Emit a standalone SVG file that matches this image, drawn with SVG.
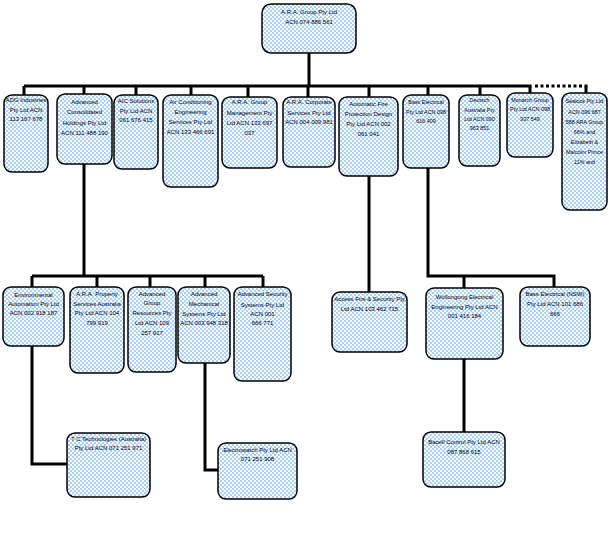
<svg xmlns="http://www.w3.org/2000/svg" width="615" height="537" viewBox="0 0 615 537">
<defs>
<pattern id="dots" width="4" height="4" patternUnits="userSpaceOnUse">
<rect width="4" height="4" fill="#ffffff"/>
<rect x="0" y="0" width="2" height="2" fill="#a8d0fc"/>
<rect x="2" y="2" width="2" height="2" fill="#a8d0fc"/>
</pattern>
</defs>
<style>
.b{fill:url(#dots);stroke:#000;stroke-width:1.5}
.t{font-family:"Liberation Sans",Arial,sans-serif;font-size:6px;fill:#000;text-anchor:middle}
.s{font-size:5.4px}
.c{fill:none;stroke:#000;stroke-width:3}
.d{fill:none;stroke:#000;stroke-width:3;stroke-dasharray:3 2.5}
</style>
<g id="connectors">
<path class="c" d="M309 53V86M24 86H531.5"/>
<path class="d" d="M535 86H588"/>
<path class="c" d="M586 86V93"/>
<path class="c" d="M24 86V95M84 86V94M136 86V95M191 86V95M248 86V97M308 86V97M369 86V97M428 86V95M480 86V95M530 86V93"/>
<path class="c" d="M84 164V276M32 276H263M32 276V287M97 276V287M150 276V287M205 276V287M263 276V287"/>
<path class="c" d="M369 176V292"/>
<path class="c" d="M428 168V276H554V287M464 276V288"/>
<path class="c" d="M32 346V464H67M205 363V470H218M464 359V432"/>
</g>
<g id="n0"><rect class="b" x="262" y="4" width="94" height="49" rx="9"/><text class="t" x="309"><tspan x="309" y="14">A.R.A. Group Pty Ltd</tspan><tspan x="309" y="24">ACN 074 886 561</tspan></text></g>
<g id="n1"><rect class="b" x="4" y="95" width="44" height="77" rx="8"/><text class="t"><tspan x="26" y="102">ADG Industries</tspan><tspan x="26" y="112">Pty Ltd ACN</tspan><tspan x="26" y="121">113 167 678</tspan></text></g>
<g id="n2"><rect class="b" x="57" y="94" width="55" height="70" rx="8"/><text class="t"><tspan x="84.5" y="104">Advanced</tspan><tspan x="84.5" y="114">Consolidated</tspan><tspan x="84.5" y="125">Holdings Pty Ltd</tspan><tspan x="84.5" y="135">ACN 111 488 190</tspan></text></g>
<g id="n3"><rect class="b" x="114" y="95" width="44" height="74" rx="8"/><text class="t"><tspan x="136" y="103">AIC Solutions</tspan><tspan x="136" y="113">Pty Ltd ACN</tspan><tspan x="136" y="122">061 676 415</tspan></text></g>
<g id="n4"><rect class="b" x="163" y="95" width="55" height="92" rx="8"/><text class="t"><tspan x="190.5" y="104">Air Conditioning</tspan><tspan x="190.5" y="114">Engineering</tspan><tspan x="190.5" y="124">Services Pty Ltd</tspan><tspan x="190.5" y="134">ACN 133 466 691</tspan></text></g>
<g id="n5"><rect class="b" x="222" y="97" width="55" height="71" rx="8"/><text class="t"><tspan x="249.5" y="104">A.R.A. Group</tspan><tspan x="249.5" y="115">Management Pty</tspan><tspan x="249.5" y="125">Ltd ACN 133 697</tspan><tspan x="249.5" y="135">037</tspan></text></g>
<g id="n6"><rect class="b" x="283" y="97" width="52" height="70" rx="8"/><text class="t"><tspan x="309" y="104">A.R.A. Corporate</tspan><tspan x="309" y="115">Services Pty Ltd</tspan><tspan x="309" y="124">ACN 004 009 981</tspan></text></g>
<g id="n7"><rect class="b" x="339" y="97" width="59" height="79" rx="8"/><text class="t"><tspan x="368.5" y="106">Automatic Fire</tspan><tspan x="368.5" y="116">Protection Design</tspan><tspan x="368.5" y="126">Pty Ltd ACN 002</tspan><tspan x="368.5" y="136">061 041</tspan></text></g>
<g id="n8"><rect class="b" x="403" y="95" width="46" height="73" rx="8"/><text class="t s"><tspan x="426" y="104">Bass Electrical</tspan><tspan x="426" y="114">Pty Ltd ACN 098</tspan><tspan x="426" y="123">616 409</tspan></text></g>
<g id="n9"><rect class="b" x="459" y="95" width="41" height="71" rx="8"/><text class="t s"><tspan x="479.5" y="102">Deutsch</tspan><tspan x="479.5" y="112">Australia Pty</tspan><tspan x="479.5" y="121">Ltd ACN 090</tspan><tspan x="479.5" y="130">963 851</tspan></text></g>
<g id="n10"><rect class="b" x="507" y="93" width="46" height="64" rx="8"/><text class="t s"><tspan x="530" y="102">Monarch Group</tspan><tspan x="530" y="111">Pty Ltd ACN 098</tspan><tspan x="530" y="121">937 549</tspan></text></g>
<g id="n11"><rect class="b" x="562" y="93" width="45" height="117" rx="8"/><text class="t s"><tspan x="584.5" y="103">Sealock Pty Ltd</tspan><tspan x="584.5" y="114">ACN 096 687</tspan><tspan x="584.5" y="124">588 ARA Group</tspan><tspan x="584.5" y="134">66% and</tspan><tspan x="584.5" y="144">Elizabeth &amp;</tspan><tspan x="584.5" y="154">Malcolm Prince</tspan><tspan x="584.5" y="164">11% and</tspan></text></g>
<g id="n12"><rect class="b" x="3" y="287" width="61" height="59" rx="8"/><text class="t"><tspan x="33.5" y="297">Environmental</tspan><tspan x="33.5" y="306">Automation Pty Ltd</tspan><tspan x="33.5" y="315">ACN 002 918 187</tspan></text></g>
<g id="n13"><rect class="b" x="70" y="287" width="54" height="86" rx="8"/><text class="t"><tspan x="97" y="296">A.R.A. Property</tspan><tspan x="97" y="306">Services Australia</tspan><tspan x="97" y="315">Pty Ltd ACN 104</tspan><tspan x="97" y="325">799 919</tspan></text></g>
<g id="n14"><rect class="b" x="128" y="287" width="48" height="85" rx="8"/><text class="t"><tspan x="152" y="296">Advanced</tspan><tspan x="152" y="305">Group</tspan><tspan x="152" y="315">Resources Pty</tspan><tspan x="152" y="325">Ltd ACN 109</tspan><tspan x="152" y="335">257 917</tspan></text></g>
<g id="n15"><rect class="b" x="178" y="287" width="52" height="76" rx="8"/><text class="t"><tspan x="204" y="296">Advanced</tspan><tspan x="204" y="306">Mechanical</tspan><tspan x="204" y="316">Systems Pty Ltd</tspan><tspan x="204" y="325">ACN 003 948 318</tspan></text></g>
<g id="n16"><rect class="b" x="234" y="287" width="57" height="94" rx="8"/><text class="t"><tspan x="262.5" y="296">Advanced Security</tspan><tspan x="262.5" y="307">Systems Pty Ltd</tspan><tspan x="262.5" y="316">ACN 001</tspan><tspan x="262.5" y="325">666 771</tspan></text></g>
<g id="n17"><rect class="b" x="332" y="292" width="75" height="60" rx="8"/><text class="t"><tspan x="369.5" y="301">Access Fire &amp; Security Pty</tspan><tspan x="369.5" y="311">Ltd ACN 103 462 715</tspan></text></g>
<g id="n18"><rect class="b" x="426" y="288" width="77" height="71" rx="8"/><text class="t"><tspan x="464.5" y="299">Wollongong Electrical</tspan><tspan x="464.5" y="309">Engineering Pty Ltd ACN</tspan><tspan x="464.5" y="318">001 416 184</tspan></text></g>
<g id="n19"><rect class="b" x="520" y="287" width="70" height="59" rx="8"/><text class="t"><tspan x="555" y="296">Bass Electrical (NSW)</tspan><tspan x="555" y="306">Pty Ltd ACN 101 686</tspan><tspan x="555" y="316">666</tspan></text></g>
<g id="n20"><rect class="b" x="67" y="433" width="83" height="64" rx="8"/><text class="t"><tspan x="108.5" y="441">T C Technologies (Australia)</tspan><tspan x="108.5" y="450">Pty Ltd ACN 071 251 971</tspan></text></g>
<g id="n21"><rect class="b" x="218" y="443" width="79" height="56" rx="8"/><text class="t"><tspan x="257.5" y="452">Electrowatch Pty Ltd ACN</tspan><tspan x="257.5" y="461">071 251 908</tspan></text></g>
<g id="n22"><rect class="b" x="423" y="432" width="82" height="55" rx="8"/><text class="t"><tspan x="464" y="444">Bacell Control Pty Ltd ACN</tspan><tspan x="464" y="454">087 868 615</tspan></text></g>
</svg>
